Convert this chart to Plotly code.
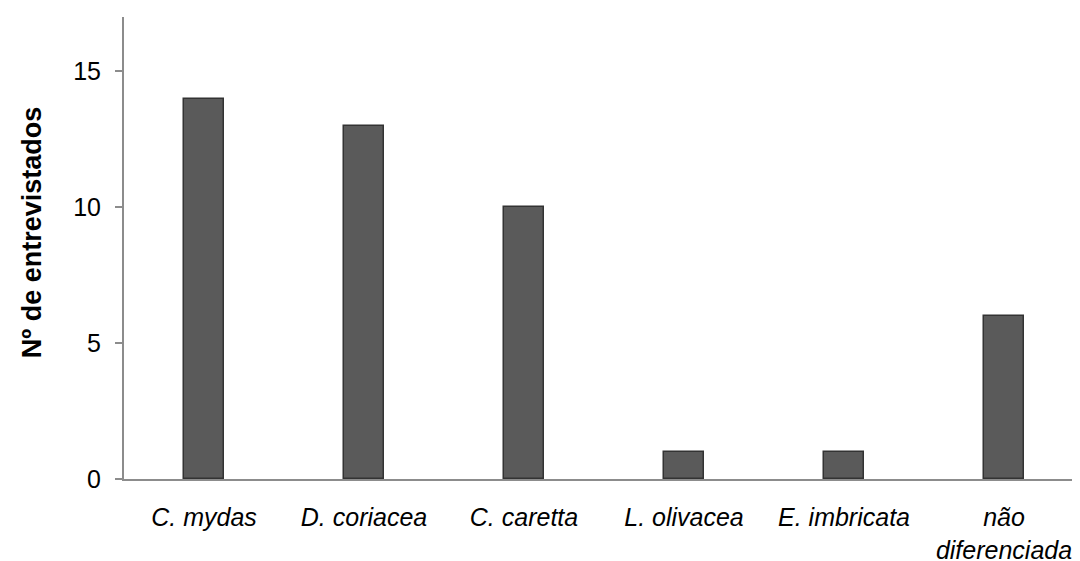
import plotly.graph_objects as go

species = ["C. mydas", "D. coriacea", "C. caretta", "L. olivacea", "E. imbricata", "não<br>diferenciada"]
entrevistados = [14, 13, 10, 1, 1, 6]
y_ticks = [0, 5, 10, 15]

fig = go.Figure()
fig.add_trace(go.Bar(
    x=list(range(len(species))), y=entrevistados,
    width=0.25,
    marker=dict(color="#5a5a5a", line=dict(color="#333333", width=1.5)),
))

# page body adds 8px offset, so margins are shifted by that
fig.update_layout(
    width=1080, height=561,
    margin=dict(l=116, r=4, t=9, b=90, autoexpand=False),
    paper_bgcolor="white", plot_bgcolor="white",
    font=dict(family="Liberation Sans, Arial", color="black"),
    showlegend=False,
    bargap=0,
)
fig.update_xaxes(
    range=[-0.5, 5.5], automargin=False,
    tickvals=list(range(len(species))), ticktext=species,
    tickfont=dict(size=25, style="italic"),
    showline=True, linecolor="#8c8c8c", linewidth=2,
    ticks="", ticklabelstandoff=15,
    showgrid=False, zeroline=False,
)
fig.update_yaxes(
    range=[0, 17], tickvals=y_ticks, automargin=False,
    tickfont=dict(size=25), ticklabelstandoff=9,
    showline=True, linecolor="#8c8c8c", linewidth=2,
    ticks="outside", ticklen=7, tickcolor="#8c8c8c", tickwidth=2,
    showgrid=False, zeroline=False,
)
fig.add_annotation(
    text="<b>Nº de entrevistados</b>", textangle=-90,
    xref="paper", yref="paper", x=(24 - 116) / 960, y=0.532,
    xanchor="center", yanchor="middle", showarrow=False,
    font=dict(size=27),
)

fig.write_html("out.html")
